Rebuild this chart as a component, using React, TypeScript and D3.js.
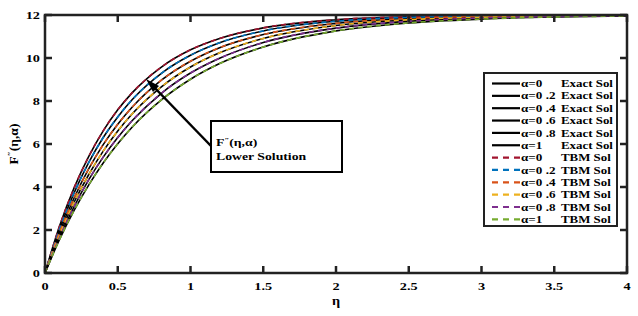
import React from "react";
import * as d3 from "d3";

const W = 638;
const H = 316;

// eta grid and the six curves (one per alpha)
const eta = [0, 0.1, 0.2, 0.3, 0.4, 0.5, 0.6, 0.8, 1.0, 1.2, 1.5, 2.0, 2.5, 3.0, 3.5, 4.0];
const alphaLabels = ["α=0", "α=0 .2", "α=0 .4", "α=0 .6", "α=0 .8", "α=1"];
const fA0 = [0, 2.18, 3.96, 5.41, 6.61, 7.59, 8.39, 9.58, 10.38, 10.91, 11.4, 11.78, 11.92, 11.97, 11.99, 12.0];
const fA02 = [0, 2.04, 3.73, 5.13, 6.3, 7.26, 8.07, 9.29, 10.13, 10.71, 11.26, 11.71, 11.89, 11.95, 11.98, 11.99];
const fA04 = [0, 1.9, 3.49, 4.84, 5.97, 6.92, 7.72, 8.97, 9.85, 10.48, 11.09, 11.61, 11.84, 11.93, 11.97, 11.99];
const fA06 = [0, 1.77, 3.29, 4.57, 5.67, 6.61, 7.41, 8.66, 9.58, 10.24, 10.91, 11.51, 11.78, 11.9, 11.96, 11.98];
const fA08 = [0, 1.66, 3.09, 4.33, 5.39, 6.3, 7.09, 8.36, 9.3, 9.99, 10.72, 11.39, 11.71, 11.86, 11.93, 11.97];
const fA1 = [0, 1.56, 2.91, 4.09, 5.12, 6.01, 6.79, 8.05, 9.01, 9.74, 10.51, 11.26, 11.63, 11.81, 11.91, 11.95];
const series = [fA0, fA02, fA04, fA06, fA08, fA1];
const tbmColors = ["#A2142F", "#0072BD", "#D95319", "#EDB120", "#7E2F8E", "#77AC30"];

const xTicks = [0, 0.5, 1, 1.5, 2, 2.5, 3, 3.5, 4];
const yTicks = [0, 2, 4, 6, 8, 10, 12];

const FONT = "'Liberation Serif', 'Times New Roman', serif";

function T({ x, y, size = 11, anchor = "start", sx = 1.25, children }: any) {
  return (
    <text
      transform={`translate(${x},${y}) scale(${sx},1)`}
      fontFamily={FONT}
      fontWeight="bold"
      fontSize={size}
      textAnchor={anchor}
      fill="#000"
    >
      {children}
    </text>
  );
}

export default function App() {
  const m = { left: 45, right: 627, top: 15, bottom: 273 };
  const x = d3.scaleLinear().domain([0, 4]).range([m.left, m.right]);
  const y = d3.scaleLinear().domain([0, 12]).range([m.bottom, m.top]);
  const line = d3
    .line<number>()
    .x((_, i) => x(eta[i]))
    .y((d) => y(d))
    .curve(d3.curveMonotoneX);

  const tickLen = 7;
  const legX = 484;
  const legY = 73;
  const rowH = 12.35;

  return (
    <div style={{ position: "fixed", left: 0, top: 0 }}>
      <svg width={W} height={H} style={{ display: "block", background: "#fff" }}>
        <rect x={0} y={0} width={W} height={H} fill="#fff" />
        {/* exact solutions */}
        {series.map((s, i) => (
          <path key={"e" + i} d={line(s) || ""} fill="none" stroke="#000" strokeWidth={1.6} />
        ))}
        {/* TBM solutions */}
        {series.map((s, i) => (
          <path
            key={"t" + i}
            d={line(s) || ""}
            fill="none"
            stroke={tbmColors[i]}
            strokeWidth={1.6}
            strokeDasharray="5,4"
          />
        ))}

        {/* axes box */}
        <rect
          x={m.left}
          y={m.top}
          width={m.right - m.left}
          height={m.bottom - m.top}
          fill="none"
          stroke="#222"
          strokeWidth={2.5}
        />
        {xTicks.map((t) => (
          <g key={"xt" + t}>
            <line x1={x(t)} x2={x(t)} y1={m.bottom} y2={m.bottom - tickLen} stroke="#222" strokeWidth={2.5} />
            <line x1={x(t)} x2={x(t)} y1={m.top} y2={m.top + tickLen} stroke="#222" strokeWidth={2.5} />
            <T x={x(t)} y={290} anchor="middle" size={11} sx={1.3}>
              {String(t)}
            </T>
          </g>
        ))}
        {yTicks.map((t) => (
          <g key={"yt" + t}>
            <line x1={m.left} x2={m.left + tickLen} y1={y(t)} y2={y(t)} stroke="#222" strokeWidth={2.5} />
            <line x1={m.right} x2={m.right - tickLen} y1={y(t)} y2={y(t)} stroke="#222" strokeWidth={2.5} />
            <T x={40} y={y(t) + 3.8} anchor="end" size={11} sx={1.3}>
              {String(t)}
            </T>
          </g>
        ))}

        {/* axis titles */}
        <T x={336} y={305} anchor="middle" size={13} sx={1.1}>
          η
        </T>
        <text
          transform={`translate(18,144) rotate(-90)`}
          fontFamily={FONT}
          fontWeight="bold"
          fontSize={13.5}
          textAnchor="middle"
        >
          F<tspan dy={-4} fontSize={9}>″</tspan>
          <tspan dy={4}>(η,α)</tspan>
        </text>

        {/* annotation */}
        <line x1={211} y1={146} x2={152} y2={85} stroke="#000" strokeWidth={2.5} />
        <path d="M146,79 L159,86 L153,92 Z" fill="#000" />
        <rect x={211} y={121} width={131} height={51} fill="#fff" stroke="#000" strokeWidth={2} />
        <g transform="translate(216,146) scale(1.25,1)">
          <text fontFamily={FONT} fontWeight="bold" fontSize={11}>
            F<tspan dy={-4} fontSize={7}>″</tspan>
            <tspan dy={4}>(η,α)</tspan>
          </text>
        </g>
        <T x={216} y={160} size={11}>
          Lower Solution
        </T>

        {/* legend */}
        <rect x={legX} y={legY} width={133} height={153} fill="#fff" stroke="#222" strokeWidth={2} />
        {alphaLabels.concat(alphaLabels).map((lab, i) => {
          const ry = legY + 10.5 + i * rowH;
          const tbm = i >= 6;
          const c = tbm ? tbmColors[i - 6] : "#000";
          return (
            <g key={"lg" + i}>
              <line
                x1={492}
                x2={520}
                y1={ry}
                y2={ry}
                stroke={c}
                strokeWidth={2.2}
                strokeDasharray={tbm ? "6,5" : undefined}
              />
              <T x={521} y={ry + 3.6} size={10.5} sx={1.25}>
                {lab}
              </T>
              <T x={tbm ? 561 : 561} y={ry + 3.6} size={10.5} sx={1.23}>
                {tbm ? "TBM Sol" : "Exact Sol"}
              </T>
            </g>
          );
        })}
      </svg>
    </div>
  );
}
